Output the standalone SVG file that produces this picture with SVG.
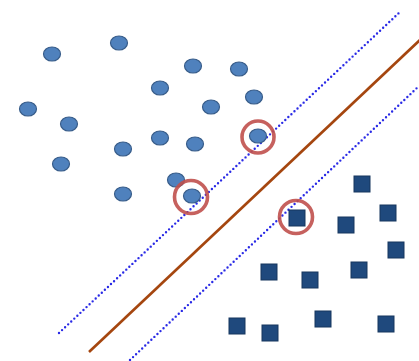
<svg xmlns="http://www.w3.org/2000/svg" width="419" height="361" viewBox="0 0 419 361">
<style>
.c{fill:#4f81bd;stroke:#385d8a;stroke-width:1.2}
.s{fill:#1f497d;stroke:#17375e;stroke-width:1}
.m{fill:none;stroke:#2a2ae6;stroke-width:2.4;stroke-linecap:round;stroke-dasharray:0 4.2}
.h{fill:none;stroke:#a5460f;stroke-width:2.6}
.r{fill:none;stroke:#c0504d;stroke-width:3.6;opacity:0.9}
</style>
<rect width="419" height="361" fill="#ffffff"/>
<g id="lines">
<line class="m" x1="59" y1="333" x2="401" y2="11"/>
<line class="h" x1="89" y1="352" x2="421" y2="39"/>
<line class="m" x1="130" y1="360" x2="419" y2="86"/>
</g>
<g id="classA">
<ellipse class="c" cx="52" cy="54" rx="8.5" ry="7"/>
<ellipse class="c" cx="119" cy="43" rx="8.5" ry="7"/>
<ellipse class="c" cx="193" cy="66" rx="8.5" ry="7"/>
<ellipse class="c" cx="239" cy="69" rx="8.5" ry="7"/>
<ellipse class="c" cx="160" cy="88" rx="8.5" ry="7"/>
<ellipse class="c" cx="254" cy="97" rx="8.5" ry="7"/>
<ellipse class="c" cx="28" cy="109" rx="8.5" ry="7"/>
<ellipse class="c" cx="211" cy="107" rx="8.5" ry="7"/>
<ellipse class="c" cx="69" cy="124" rx="8.5" ry="7"/>
<ellipse class="c" cx="160" cy="138" rx="8.5" ry="7"/>
<ellipse class="c" cx="195" cy="144" rx="8.5" ry="7"/>
<ellipse class="c" cx="123" cy="149" rx="8.5" ry="7"/>
<ellipse class="c" cx="61" cy="164" rx="8.5" ry="7"/>
<ellipse class="c" cx="176" cy="180" rx="8.5" ry="7"/>
<ellipse class="c" cx="123" cy="194" rx="8.5" ry="7"/>
<ellipse class="c" cx="192" cy="196" rx="8.5" ry="7"/>
<ellipse class="c" cx="258" cy="136" rx="8.5" ry="7"/>
</g>
<g id="classB">
<rect class="s" x="354" y="176" width="16" height="16"/>
<rect class="s" x="380" y="205" width="16" height="16"/>
<rect class="s" x="338" y="217" width="16" height="16"/>
<rect class="s" x="289" y="210" width="16" height="16"/>
<rect class="s" x="388" y="242" width="16" height="16"/>
<rect class="s" x="261" y="264" width="16" height="16"/>
<rect class="s" x="302" y="272" width="16" height="16"/>
<rect class="s" x="351" y="262" width="16" height="16"/>
<rect class="s" x="229" y="318" width="16" height="16"/>
<rect class="s" x="262" y="325" width="16" height="16"/>
<rect class="s" x="315" y="311" width="16" height="16"/>
<rect class="s" x="378" y="316" width="16" height="16"/>
</g>
<g id="supportVectors">
<circle class="r" cx="258" cy="137" r="16"/>
<circle class="r" cx="191" cy="197" r="16.5"/>
<circle class="r" cx="296" cy="217" r="16.5"/>
</g>
</svg>
